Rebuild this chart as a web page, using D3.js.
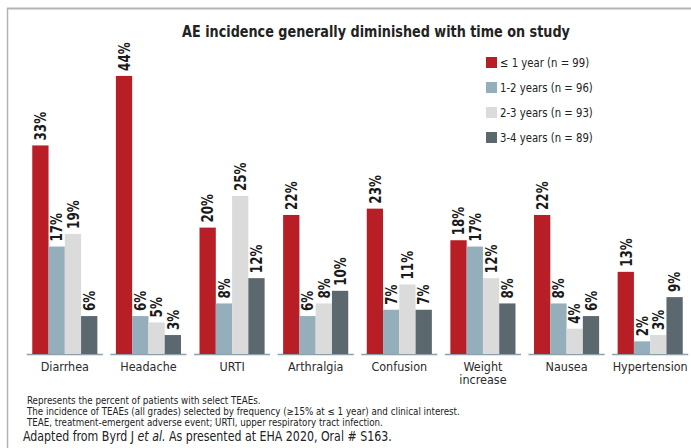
<!DOCTYPE html>
<html><head><meta charset="utf-8">
<script src="https://cdn.jsdelivr.net/npm/d3@7"></script>
<style>
body{margin:0;background:#fff;}
svg{display:block;font-family:"DejaVu Sans Condensed","Liberation Sans Narrow","Roboto",sans-serif;}
</style></head><body>
<svg id="c" width="691" height="448"></svg>
<script>
const categories = ["Diarrhea","Headache","URTI","Arthralgia","Confusion","Weight increase","Nausea","Hypertension"];
const seriesNames = ["≤ 1 year (n = 99)","1-2 years (n = 96)","2-3 years (n = 93)","3-4 years (n = 89)"];
const lt1Year   = [33,44,20,22,23,18,22,13];
const years1to2 = [17,6,8,6,7,17,8,2];
const years2to3 = [19,5,25,8,11,12,4,3];
const years3to4 = [6,3,12,10,7,8,6,9];
const colors = ["#b81e26","#94aebb","#dbdbdb","#5b686e"];
const title = "AE incidence generally diminished with time on study";
const footnotes = [
  "Represents the percent of patients with select TEAEs.",
  "The incidence of TEAEs (all grades) selected by frequency (≥15% at ≤ 1 year) and clinical interest.",
  "TEAE, treatment-emergent adverse event; URTI, upper respiratory tract infection."
];

const seriesVals = [lt1Year, years1to2, years2to3, years3to4];
const data = categories.map((c,i)=>({cat:c, vals:seriesVals.map((s,j)=>({k:j, v:s[i]}))}));

const svg = d3.select("#c");
// frame
svg.append("line").attr("x1",7).attr("x2",691).attr("y1",8.5).attr("y2",8.5).attr("stroke","#b3b3b3").attr("stroke-width",2);
svg.append("line").attr("x1",7.5).attr("x2",7.5).attr("y1",8).attr("y2",448).attr("stroke","#b3b3b3").attr("stroke-width",1.5);

const baseY = 354;
const y = d3.scaleLinear().domain([0,50]).range([baseY, baseY-50*6.32]);
const x0 = d3.scaleBand().domain(categories).range([23,692]).paddingInner(0.09).paddingOuter(0.045);
const x1 = d3.scaleBand().domain(d3.range(4)).range([5.5, x0.bandwidth()-5.5]);

svg.append("text").attr("transform","translate(376,37) scale(0.95,1)").attr("text-anchor","middle")
  .attr("font-weight","bold").attr("font-size",15).attr("fill","#222").text(title);

const g = svg.selectAll("g.grp").data(data).join("g").attr("class","grp")
  .attr("transform",d=>`translate(${x0(d.cat)},0)`);

g.append("line").attr("x1",0).attr("x2",x0.bandwidth()).attr("y1",baseY+0.5).attr("y2",baseY+0.5)
  .attr("stroke","#8d9fa9").attr("stroke-width",1.5);

g.selectAll("rect").data(d=>d.vals).join("rect")
  .attr("x",d=>x1(d.k)).attr("width",x1.bandwidth())
  .attr("y",d=>y(d.v)).attr("height",d=>baseY-y(d.v))
  .attr("fill",d=>colors[d.k]);

g.selectAll("text.val").data(d=>d.vals).join("text").attr("class","val")
  .attr("transform",d=>`translate(${x1(d.k)+x1.bandwidth()/2},${y(d.v)-5}) rotate(-90) scale(0.83,1)`)
  .attr("dy","0.36em").attr("font-size",16).attr("font-weight","bold").attr("fill","#1a1a1a")
  .text(d=>d.v+"%");

g.each(function(d){
  const words = d.cat==="Weight increase" ? ["Weight","increase"] : [d.cat];
  const t = d3.select(this).append("text")
    .attr("transform",`translate(${x0.bandwidth()/2},371) scale(0.96,1)`)
    .attr("text-anchor","middle").attr("font-size",13).attr("fill","#2b2b2b");
  words.forEach((w,i)=>t.append("tspan").attr("x",0).attr("y",i*13.5).text(w));
});

// legend
const lg = svg.selectAll("g.lg").data(seriesNames).join("g").attr("class","lg")
  .attr("transform",(d,i)=>`translate(486,${62.5+i*25})`);
lg.append("rect").attr("x",0).attr("y",-5.5).attr("width",11).attr("height",11).attr("fill",(d,i)=>colors[i]);
lg.append("text").attr("transform","translate(14,0) scale(0.9,1)").attr("dy","0.36em")
  .attr("font-size",12.5).attr("fill","#222").text(d=>d);

// footnotes
svg.selectAll("text.fn").data(footnotes).join("text").attr("class","fn")
  .attr("x",27).attr("y",(d,i)=>403.5+i*11).attr("font-size",9.7).attr("fill","#222").text(d=>d);
const ad = svg.append("text").attr("transform","translate(23,441) scale(0.876,1)").attr("font-size",14).attr("fill","#222");
ad.append("tspan").text("Adapted from Byrd J ");
ad.append("tspan").attr("font-style","italic").text("et al.");
ad.append("tspan").text(" As presented at EHA 2020, Oral # S163.");
</script>
</body></html>
